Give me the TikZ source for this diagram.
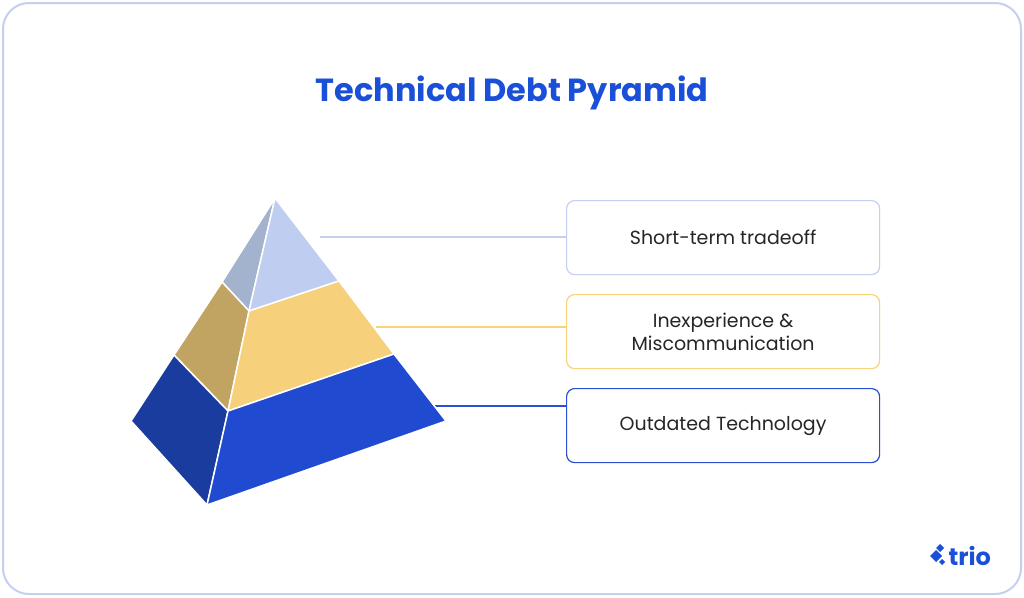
\documentclass[tikz,border=0pt]{standalone}
\usepackage{fontspec}
\setmainfont{Poppins}
\begin{document}
\begin{tikzpicture}[x=1pt,y=-1pt,
  face/.style={draw=white,line width=1.5pt,line join=round},
  lbox/.style={draw,rounded corners=8pt,line width=1.2pt,minimum width=313pt,minimum height=74pt,anchor=north west,font=\fontsize{19}{23}\selectfont,text=black!85,align=center,fill=white},
  conn/.style={line width=1.2pt}]
\definecolor{ttl}{HTML}{1A4FD8}
\definecolor{c1r}{HTML}{BFCDF0}\definecolor{c1l}{HTML}{A3B3CD}
\definecolor{c2r}{HTML}{F6D07B}\definecolor{c2l}{HTML}{C1A462}
\definecolor{c3r}{HTML}{204BD1}\definecolor{c3l}{HTML}{1A3C9E}
\definecolor{b1}{HTML}{C5CFF0}\definecolor{b2}{HTML}{F5D47C}\definecolor{b3}{HTML}{2A4FD0}
\useasboundingbox (0,0) rectangle (1024,597);
\fill[white] (0,0) rectangle (1024,597);
\draw[b1,line width=2pt,rounded corners=26pt] (3,3) rectangle (1021,594);
\node[font=\fontsize{32}{38}\selectfont\bfseries,text=ttl] (title) at (512,93) {Technical Debt Pyramid};
\node[lbox,draw=b1] (bx1) at (566,200) {Short-term tradeoff};
\node[lbox,draw=b2] (bx2) at (566,294) {Inexperience \&\\Miscommunication};
\node[lbox,draw=b3] (bx3) at (566,388) {Outdated Technology};
\coordinate (s1) at (320,237);
\coordinate (s2) at (376,327);
\coordinate (s3) at (434,406);
\draw[conn,b1] (s1) -- (bx1.west|-s1);
\draw[conn,b2] (s2) -- (bx2.west|-s2);
\draw[conn,b3] (s3) -- (bx3.west|-s3);
% pyramid
\fill[face,fill=c1l] (275,198) -- (222,282) -- (249,311) -- cycle;
\fill[face,fill=c1r] (275,198) -- (249,311) -- (339,281) -- cycle;
\fill[face,fill=c2l] (222,282) -- (174,355) -- (228,411) -- (249,311) -- cycle;
\fill[face,fill=c2r] (249,311) -- (228,411) -- (394,354) -- (339,281) -- cycle;
\fill[face,fill=c3l] (174,355) -- (131,421) -- (207,505) -- (228,411) -- cycle;
\fill[face,fill=c3r] (228,411) -- (207,505) -- (446,421) -- (394,354) -- cycle;
% logo
\node[font=\fontsize{24}{28}\selectfont\bfseries,text=ttl,anchor=west] (logo) at (945,556) {trio};
\fill[ttl] (930,556) -- (936,550) -- (942,556) -- (936,562) -- cycle;
\fill[ttl] (936,548) -- (940,544) -- (944,548) -- (940,552) -- cycle;
\fill[ttl] (939,562) -- (942,559) -- (945,562) -- (942,565) -- cycle;
\end{tikzpicture}
\end{document}
